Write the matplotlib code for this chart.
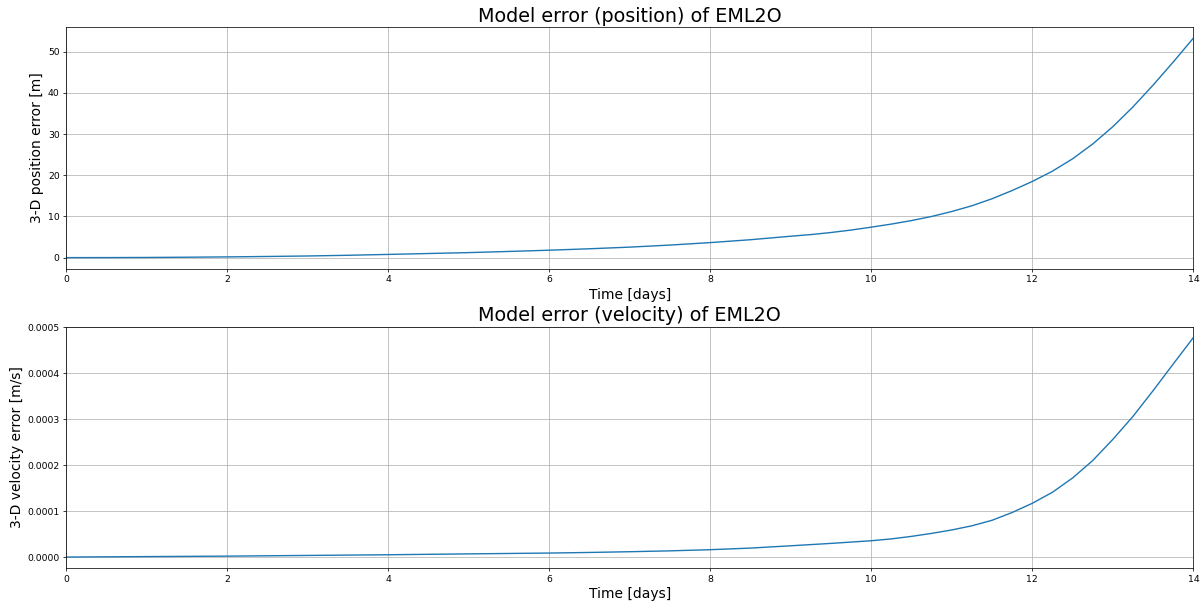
import matplotlib
matplotlib.use("Agg")
import matplotlib.pyplot as plt
import numpy as np

# time in days and 3-D model errors along the EML2 orbit
time_pos = [0, 0.5, 1, 1.5, 2, 2.5, 3, 3.5, 4, 4.5, 5, 5.5, 6, 6.5, 7, 7.5,
            8, 8.5, 9, 9.25, 9.5, 9.75, 10, 10.25, 10.5, 10.75, 11, 11.25,
            11.5, 11.75, 12, 12.25, 12.5, 12.75, 13, 13.25, 13.5, 13.75, 14]
pos_err = [0, 0.01, 0.04, 0.1, 0.18, 0.28, 0.4, 0.57, 0.78, 1.0, 1.22, 1.5,
           1.8, 2.15, 2.55, 3.05, 3.65, 4.35, 5.2, 5.6, 6.1, 6.7, 7.4, 8.15,
           9.0, 10.0, 11.2, 12.6, 14.3, 16.3, 18.5, 21.0, 24.0, 27.6, 31.8,
           36.6, 41.9, 47.5, 53.3]

time_vel = [0, 1, 2, 3, 4, 5, 6, 6.5, 7, 7.5, 8, 8.5, 9, 9.5, 10, 10.25,
            10.5, 10.75, 11, 11.25, 11.5, 11.75, 12, 12.25, 12.5, 12.75, 13,
            13.25, 13.5, 13.75, 14]
vel_err = [0, 0.1e-5, 0.2e-5, 0.35e-5, 0.5e-5, 0.69e-5, 0.87e-5, 1.0e-5,
           1.16e-5, 1.35e-5, 1.6e-5, 1.95e-5, 2.45e-5, 2.97e-5, 3.55e-5,
           3.95e-5, 4.5e-5, 5.15e-5, 5.9e-5, 6.8e-5, 8.0e-5, 9.7e-5,
           11.7e-5, 14.1e-5, 17.2e-5, 21.0e-5, 25.6e-5, 30.6e-5, 36.2e-5,
           42.0e-5, 47.75e-5]


def main():
    dpi = 1203 / 18
    fig, (ax1, ax2) = plt.subplots(2, 1, figsize=(18, 603 / dpi), dpi=dpi)

    ax1.plot(time_pos, pos_err)
    ax1.set_title("Model error (position) of EML2O", fontsize=20.6)
    ax1.set_xlabel("Time [days]", fontsize=15)
    ax1.set_ylabel("3-D position error [m]", fontsize=15)

    ax2.plot(time_vel, vel_err)
    ax2.set_title("Model error (velocity) of EML2O", fontsize=20.6)
    ax2.set_xlabel("Time [days]", fontsize=15)
    ax2.set_ylabel("3-D velocity error [m/s]", fontsize=15)
    ax2.set_yticks(np.arange(0, 0.00051, 0.0001))
    ax2.yaxis.set_major_formatter(matplotlib.ticker.FormatStrFormatter("%.4f"))

    for ax in (ax1, ax2):
        ax.set_xlim(0, 14)
        ax.grid(True)

    fig.subplots_adjust(left=0.055, right=0.992, top=0.955, bottom=0.058,
                        hspace=0.24)
    fig.savefig("out.png", dpi=dpi)


if __name__ == "__main__":
    main()
